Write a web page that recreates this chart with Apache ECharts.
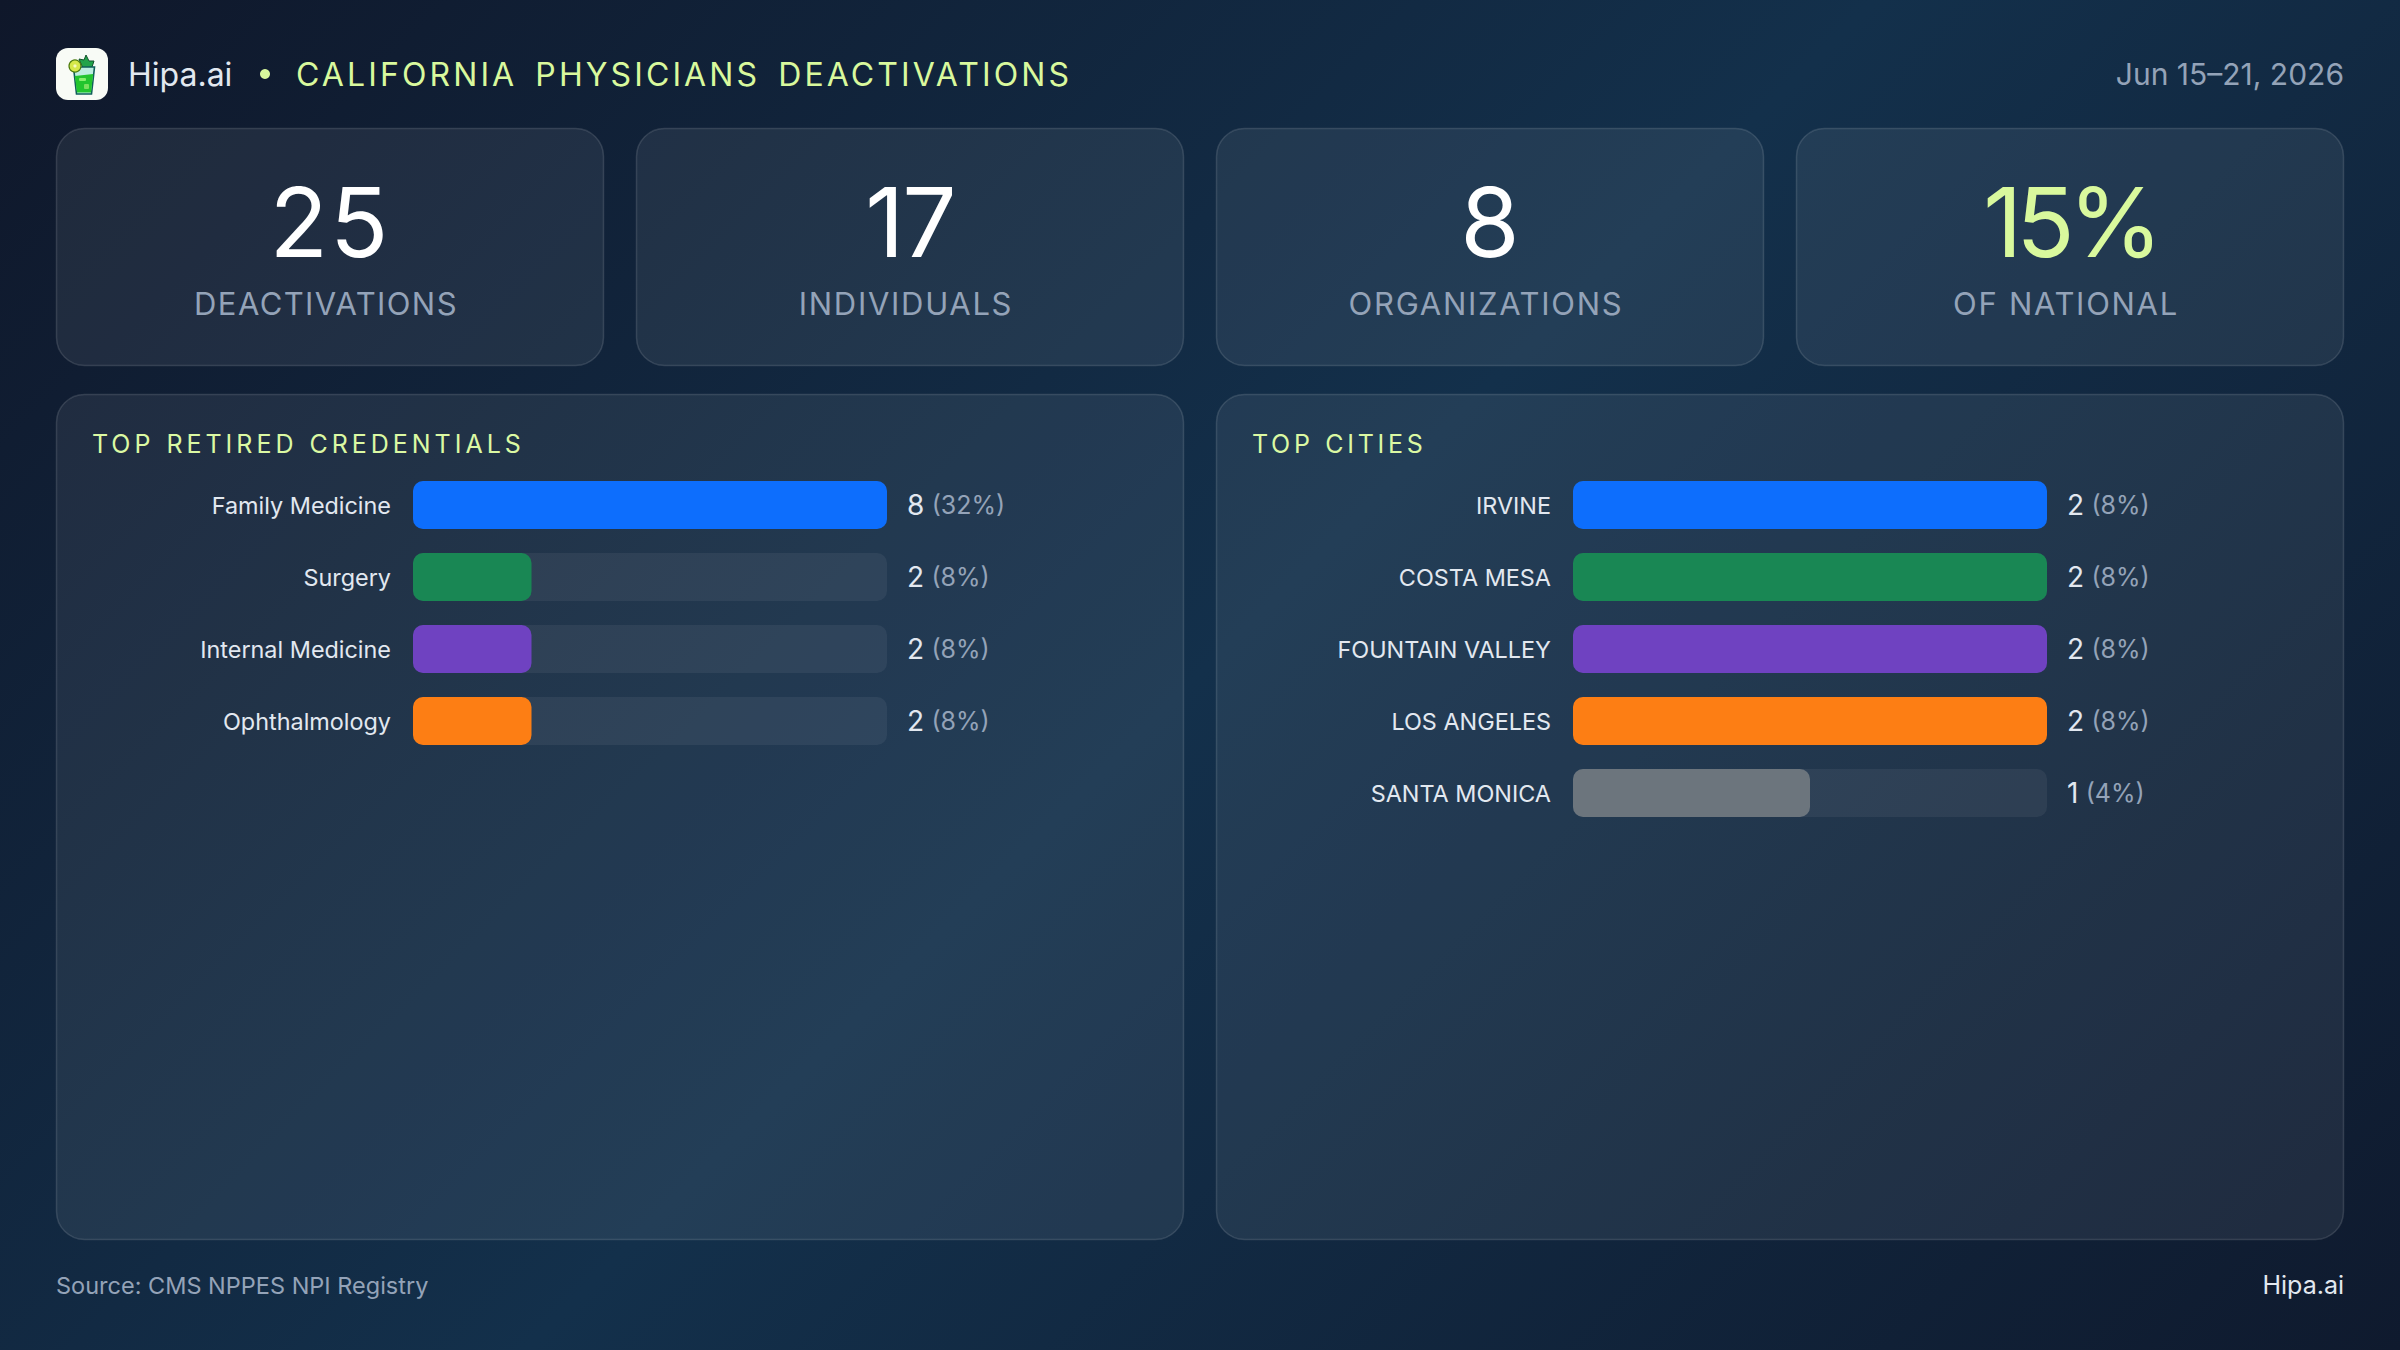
<!DOCTYPE html>
<html>
<head>
<meta charset="utf-8">
<title>California Physicians Deactivations</title>
<style>
  html, body { margin: 0; padding: 0; background: #101c30; }
  #chart { width: 2400px; height: 1350px; }
</style>
<script src="https://cdn.jsdelivr.net/npm/echarts@6/dist/echarts.min.js"></script>
</head>
<body>
<div id="chart"></div>
<script>
const FONT = 'Inter, "Noto Sans", sans-serif';

const kpiValues = ['25', '17', '8', '15%'];
const kpiLabels = ['DEACTIVATIONS', 'INDIVIDUALS', 'ORGANIZATIONS', 'OF NATIONAL'];

const credentialNames = ['Family Medicine', 'Surgery', 'Internal Medicine', 'Ophthalmology'];
const credentialCounts = [8, 2, 2, 2];
const credentialShares = [32, 8, 8, 8];

const cityNames = ['IRVINE', 'COSTA MESA', 'FOUNTAIN VALLEY', 'LOS ANGELES', 'SANTA MONICA'];
const cityCounts = [2, 2, 2, 2, 1];
const cityShares = [8, 8, 8, 8, 4];

const barColors = ['#0d6efd', '#198754', '#6f42c1', '#fd7e14', '#6c757d'];

const LIME = '#d9f99d';
const MUTED = '#94a3b8';
const SOFT = '#e2e8f0';

// Letter and word spacing per string, applied to the SVG text nodes after rendering.
const spacing = {
  'CALIFORNIA PHYSICIANS DEACTIVATIONS': ['3.1px', '6px'],
  'TOP RETIRED CREDENTIALS': ['3.98px', '1px'],
  'TOP CITIES': ['3.7px', '1px'],
  'DEACTIVATIONS': ['1.4px', '0'],
  'INDIVIDUALS': ['1.7px', '0'],
  'ORGANIZATIONS': ['1.7px', '0'],
  'OF NATIONAL': ['1.7px', '0'],
  '25': ['2px', '0'], '17': ['-2px', '0'], '15%': ['-6px', '0']
};

const cardX = [56, 636, 1216, 1796];
const panelX = [56, 1216];

function text(x, y, str, size, fill, align, weight) {
  return {
    type: 'text', x, y,
    style: {
      text: str, fill, font: (weight || 400) + ' ' + size + 'px ' + FONT,
      textAlign: align || 'left', textVerticalAlign: 'middle'
    }
  };
}

function frame(x, y, width, height, r) {
  return {
    type: 'rect',
    shape: { x: x + 0.5, y: y + 0.5, width: width - 1, height: height - 1, r },
    style: { fill: 'rgba(255,255,255,0.07)', stroke: 'rgba(255,255,255,0.13)', lineWidth: 1.5 }
  };
}

// Small mojito-glass logo beside the brand name.
const logo = [
  { type: 'rect', shape: { x: 56, y: 48, width: 52, height: 52, r: 12 }, style: { fill: '#f8fbf6' } },
  { type: 'polygon', shape: { points: [[82, 66], [79, 59], [84, 60], [86, 55], [89, 61], [94, 61], [92, 67], [84, 68]] },
    style: { fill: '#22a34a', stroke: '#14532d', lineWidth: 1 } },
  { type: 'polygon', shape: { points: [[73.5, 67], [94.5, 67], [91.5, 94], [76.5, 94]] },
    style: { fill: '#bdeee0', stroke: '#0f5f5a', lineWidth: 1.6 } },
  { type: 'polygon', shape: { points: [[74.8, 76], [93.2, 74], [91, 92.6], [77, 92.6]] }, style: { fill: '#22c52e' } },
  { type: 'rect', shape: { x: 79, y: 78, width: 7, height: 3, r: 1 }, style: { fill: '#86ef6c' } },
  { type: 'rect', shape: { x: 84, y: 84, width: 5, height: 5, r: 1 }, style: { fill: '#7be05f' } },
  { type: 'circle', shape: { cx: 75, cy: 66, r: 6 }, style: { fill: '#d6e84a', stroke: '#4d7c0f', lineWidth: 1.2 } },
  { type: 'circle', shape: { cx: 75, cy: 66, r: 1.6 }, style: { fill: '#f4f9c0' } }
];

const elements = [
  ...logo,
  text(128, 74, 'Hipa.ai', 32, SOFT),
  { type: 'circle', shape: { cx: 265, cy: 74, r: 5 }, style: { fill: LIME } },
  text(296, 74, 'CALIFORNIA PHYSICIANS DEACTIVATIONS', 32, LIME),
  text(2344, 74, 'Jun 15–21, 2026', 30, MUTED, 'right'),
  text(56, 1285, 'Source: CMS NPPES NPI Registry', 23.5, MUTED),
  text(2344, 1285, 'Hipa.ai', 25, SOFT, 'right'),
  text(92, 444, 'TOP RETIRED CREDENTIALS', 25, LIME),
  text(1252, 444, 'TOP CITIES', 25, LIME)
];

cardX.forEach((x, i) => {
  elements.push(frame(x, 128, 548, 238, 28));
  elements.push(text(x + 274, 222, kpiValues[i], 96, i === 3 ? LIME : '#ffffff', 'center'));
  elements.push(text(x + 270, 303, kpiLabels[i], 31, MUTED, 'center'));
});
panelX.forEach(x => elements.push(frame(x, 394, 1128, 846, 28)));

const TRACK_WIDTH = 474;
const ROW = 72;

function panelParts(index, left, names, counts, shares, max) {
  const valueLabels = counts.map((c, i) => `{n|${c}} {p|(${shares[i]}%)}`);
  return {
    grid: { left, top: 469, width: TRACK_WIDTH, height: ROW * names.length },
    xAxis: { type: 'value', gridIndex: index, min: 0, max, show: false },
    yAxes: [
      {
        type: 'category', gridIndex: index, data: names, inverse: true,
        axisLine: { show: false }, axisTick: { show: false },
        axisLabel: { color: SOFT, fontFamily: FONT, fontSize: 23.4, margin: 22, interval: 0 }
      },
      {
        type: 'category', gridIndex: index, position: 'right', data: valueLabels, inverse: true,
        axisLine: { show: false }, axisTick: { show: false },
        axisLabel: {
          align: 'left', margin: 20, interval: 0,
          formatter: v => v,
          rich: {
            n: { color: SOFT, fontFamily: FONT, fontSize: 28 },
            p: { color: MUTED, fontFamily: FONT, fontSize: 25, padding: [0, 0, 0, 4] }
          }
        }
      }
    ],
    series: {
      type: 'bar', xAxisIndex: index, yAxisIndex: index * 2, barWidth: 48,
      showBackground: true,
      backgroundStyle: { color: 'rgba(255,255,255,0.06)', borderRadius: 10 },
      silent: true, animation: false,
      data: counts.map((c, i) => ({ value: c, itemStyle: { color: barColors[i], borderRadius: 10 } }))
    }
  };
}

const left = panelParts(0, 413, credentialNames, credentialCounts, credentialShares, 8);
const right = panelParts(1, 1573, cityNames, cityCounts, cityShares, 2);

const chart = echarts.init(document.getElementById('chart'), null, { renderer: 'svg', width: 2400, height: 1350 });

chart.on('finished', () => {
  document.querySelectorAll('#chart svg text').forEach(node => {
    const s = spacing[node.textContent.trim()];
    if (s) {
      node.style.letterSpacing = s[0];
      node.style.wordSpacing = s[1];
    }
  });
});

chart.setOption({
  animation: false,
  // CSS-style 135deg sweep across the page: navy, steel blue, navy.
  backgroundColor: {
    type: 'linear', global: true, x: 262.5, y: -262.5, x2: 2137.5, y2: 1612.5,
    colorStops: [
      { offset: 0, color: '#0f172a' },
      { offset: 0.5, color: '#13304b' },
      { offset: 1, color: '#0f1a2e' }
    ]
  },
  textStyle: { fontFamily: FONT },
  graphic: { elements },
  grid: [left.grid, right.grid],
  xAxis: [left.xAxis, right.xAxis],
  yAxis: [...left.yAxes, ...right.yAxes],
  series: [left.series, right.series]
});
</script>
</body>
</html>
